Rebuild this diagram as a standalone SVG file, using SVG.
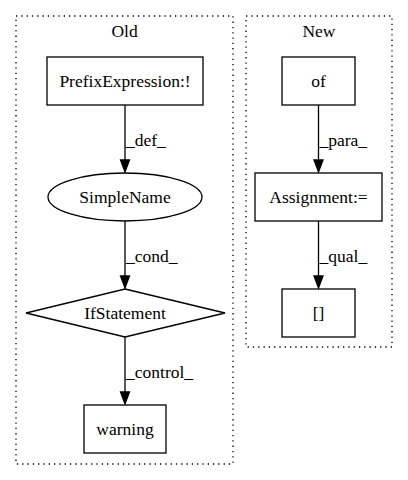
<svg xmlns="http://www.w3.org/2000/svg" width="408" height="480" viewBox="0 0 408 480">
<style>
text{font-family:"Liberation Serif","DejaVu Serif",serif;font-size:17.5px;fill:#000}
.n{fill:none;stroke:#000;stroke-width:1.3}
.c{fill:none;stroke:#000;stroke-width:1.3;stroke-dasharray:1.3,4}
.e{fill:none;stroke:#000;stroke-width:1.3}
.a{fill:#000;stroke:#000;stroke-width:1.3}
.m{text-anchor:middle}
</style>
<rect width="408" height="480" fill="#fff"/>
<g id="cluster_old">
<rect class="c" x="16" y="16" width="217" height="448"/>
<text class="m" x="124.5" y="37">Old</text>
</g>
<g id="cluster_new">
<rect class="c" x="246" y="16" width="146" height="331"/>
<text class="m" x="319" y="37">New</text>
</g>
<g id="connectors">
<path class="e" d="M125,105 L125,160"/>
<path class="a" d="M120.5,160 L129.5,160 L125,172 Z"/>
<text x="126" y="146">_def_</text>
<path class="e" d="M125,221 L125,276"/>
<path class="a" d="M120.5,276 L129.5,276 L125,288 Z"/>
<text x="126" y="262">_cond_</text>
<path class="e" d="M125,337 L125,392"/>
<path class="a" d="M120.5,392 L129.5,392 L125,404 Z"/>
<text x="126" y="378">_control_</text>
<path class="e" d="M318.5,105 L318.5,160"/>
<path class="a" d="M314,160 L323,160 L318.5,172 Z"/>
<text x="319.5" y="146">_para_</text>
<path class="e" d="M318.5,221 L318.5,276"/>
<path class="a" d="M314,276 L323,276 L318.5,288 Z"/>
<text x="319.5" y="262">_qual_</text>
</g>
<g id="prefix">
<rect class="n" x="47" y="57" width="156" height="48"/>
<text class="m" x="125" y="87">PrefixExpression:!</text>
</g>
<g id="simplename">
<ellipse class="n" cx="125" cy="197" rx="77" ry="24"/>
<text class="m" x="125" y="203">SimpleName</text>
</g>
<g id="ifstatement">
<path class="n" d="M125,289 L225,313 L125,337 L26,313 Z"/>
<text class="m" x="125" y="319">IfStatement</text>
</g>
<g id="warning">
<rect class="n" x="84" y="405" width="82" height="48"/>
<text class="m" x="125" y="435">warning</text>
</g>
<g id="of">
<rect class="n" x="282" y="57" width="73" height="48"/>
<text class="m" x="318.5" y="87">of</text>
</g>
<g id="assignment">
<rect class="n" x="255" y="173" width="127" height="48"/>
<text class="m" x="318.5" y="203">Assignment:=</text>
</g>
<g id="index">
<rect class="n" x="282" y="289" width="73" height="48"/>
<text class="m" x="318.5" y="319">[]</text>
</g>
</svg>
